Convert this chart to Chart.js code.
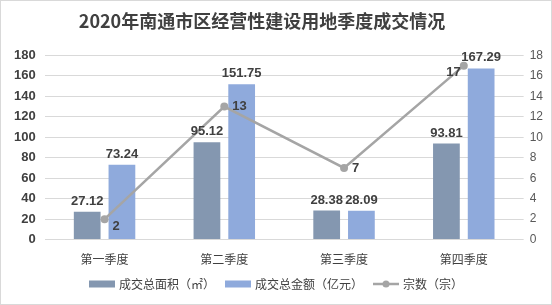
<!DOCTYPE html>
<html>
<head>
<meta charset="utf-8">
<script src="https://cdn.jsdelivr.net/npm/chart.js@4/dist/chart.umd.min.js"></script>
<style>
  html, body { margin: 0; padding: 0; background: #fff; }
  #wrap { width: 552px; height: 305px; box-sizing: border-box; border: 1px solid #d9d9d9; }
</style>
</head>
<body>
<div id="wrap"><canvas id="canvas" width="550" height="303"></canvas></div>
<script>
// 季度
const quarters = ['第一季度', '第二季度', '第三季度', '第四季度'];
// 成交总面积（㎡）
const areaValues = [27.12, 95.12, 28.38, 93.81];
// 成交总金额（亿元）
const amountValues = [73.24, 151.75, 28.09, 167.29];
// 宗数（宗）
const countValues = [2, 13, 7, 17];
const seriesNames = ['成交总面积（㎡）', '成交总金额（亿元）', '宗数（宗）'];
const titleText = '2020年南通市区经营性建设用地季度成交情况';

const CJK = '"Noto Sans CJK SC", "Liberation Sans", sans-serif';
const NUM = '"Liberation Sans", Arial, sans-serif';
const textColor = '#404040';

// where the line labels sit relative to their point
const lineLabelSide = ['rb', 'r', 'r', 'lb'];

const labelPlugin = {
  id: 'valueLabels',
  afterDatasetsDraw(chart) {
    const ctx = chart.ctx;
    ctx.save();
    ctx.font = 'bold 13px ' + NUM;
    ctx.fillStyle = textColor;
    chart.data.datasets.forEach((ds, i) => {
      const meta = chart.getDatasetMeta(i);
      meta.data.forEach((el, j) => {
        const v = ds.data[j];
        if (ds.type === 'line') {
          const side = lineLabelSide[j];
          ctx.textBaseline = 'middle';
          let y = el.y;
          if (side.includes('b')) y += 7;
          if (side.startsWith('r')) { ctx.textAlign = 'left'; ctx.fillText(v, el.x + 8, y); }
          else { ctx.textAlign = 'right'; ctx.fillText(v, el.x - 3, y); }
        } else {
          ctx.textAlign = 'center';
          ctx.textBaseline = 'bottom';
          ctx.fillText(v.toFixed(2), el.x, el.y - 4);
        }
      });
    });
    ctx.restore();
  },
  afterDraw(chart) {
    const ctx = chart.ctx;
    ctx.save();
    // title (sits a bit left of centre, like the original)
    ctx.font = 'bold 18px ' + CJK;
    ctx.fillStyle = textColor;
    ctx.textAlign = 'center';
    ctx.textBaseline = 'middle';
    ctx.fillText(titleText, 261, 20);

    // legend at the bottom
    ctx.font = '12px ' + CJK;
    ctx.textAlign = 'left';
    const y = 283;
    const sw = 26;
    const gap = 10;
    const items = chart.data.datasets.map(ds => ({
      ds, text: ds.label, w: sw + 4 + ctx.measureText(ds.label).width
    }));
    const total = items.reduce((s, it) => s + it.w, 0) + gap * (items.length - 1);
    let x = (chart.width - total) / 2;
    items.forEach(it => {
      if (it.ds.type === 'line') {
        ctx.strokeStyle = it.ds.borderColor;
        ctx.lineWidth = 2.5;
        ctx.beginPath(); ctx.moveTo(x, y); ctx.lineTo(x + sw, y); ctx.stroke();
        ctx.fillStyle = it.ds.borderColor;
        ctx.beginPath(); ctx.arc(x + sw / 2, y, 3.5, 0, Math.PI * 2); ctx.fill();
      } else {
        ctx.fillStyle = it.ds.backgroundColor;
        ctx.fillRect(x, y - 3.5, sw, 7);
      }
      ctx.fillStyle = textColor;
      ctx.fillText(it.text, x + sw + 4, y);
      x += it.w + gap;
    });
    ctx.restore();
  }
};

new Chart(document.getElementById('canvas').getContext('2d'), {
  type: 'bar',
  data: {
    labels: quarters,
    datasets: [
      {
        label: seriesNames[0], data: areaValues, yAxisID: 'y',
        backgroundColor: '#8497b0', barPercentage: 0.77, categoryPercentage: 0.58, order: 1
      },
      {
        label: seriesNames[1], data: amountValues, yAxisID: 'y',
        backgroundColor: '#8faadc', barPercentage: 0.77, categoryPercentage: 0.58, order: 1
      },
      {
        type: 'line', label: seriesNames[2], data: countValues, yAxisID: 'y1',
        borderColor: '#a5a5a5', backgroundColor: '#a5a5a5', borderWidth: 2.5,
        pointRadius: 4, pointBackgroundColor: '#a5a5a5', pointBorderWidth: 0,
        tension: 0, order: 0
      }
    ]
  },
  options: {
    responsive: false,
    animation: false,
    layout: { padding: { left: 4, right: 2, top: 0, bottom: 32 } },
    plugins: {
      legend: { display: false },
      tooltip: { enabled: false },
      title: {
        // keeps the room for the title; the text itself is drawn by the plugin
        display: true,
        text: titleText,
        color: 'rgba(0,0,0,0)',
        font: { family: CJK, size: 17, weight: 'bold' },
        padding: { top: 10, bottom: 24 }
      }
    },
    scales: {
      x: {
        grid: { display: false },
        border: { display: false },
        ticks: { color: textColor, font: { family: CJK, size: 12 }, padding: 5 }
      },
      y: {
        position: 'left', min: 0, max: 180,
        ticks: { stepSize: 20, color: textColor, font: { family: NUM, size: 13, weight: 'bold' }, padding: 9 },
        grid: { color: '#d9d9d9', drawTicks: false },
        border: { display: false }
      },
      y1: {
        position: 'right', min: 0, max: 18,
        ticks: { stepSize: 2, color: '#595959', font: { family: NUM, size: 12 }, padding: 6 },
        grid: { display: false, drawTicks: false },
        border: { display: false }
      }
    }
  },
  plugins: [labelPlugin]
});
</script>
</body>
</html>
